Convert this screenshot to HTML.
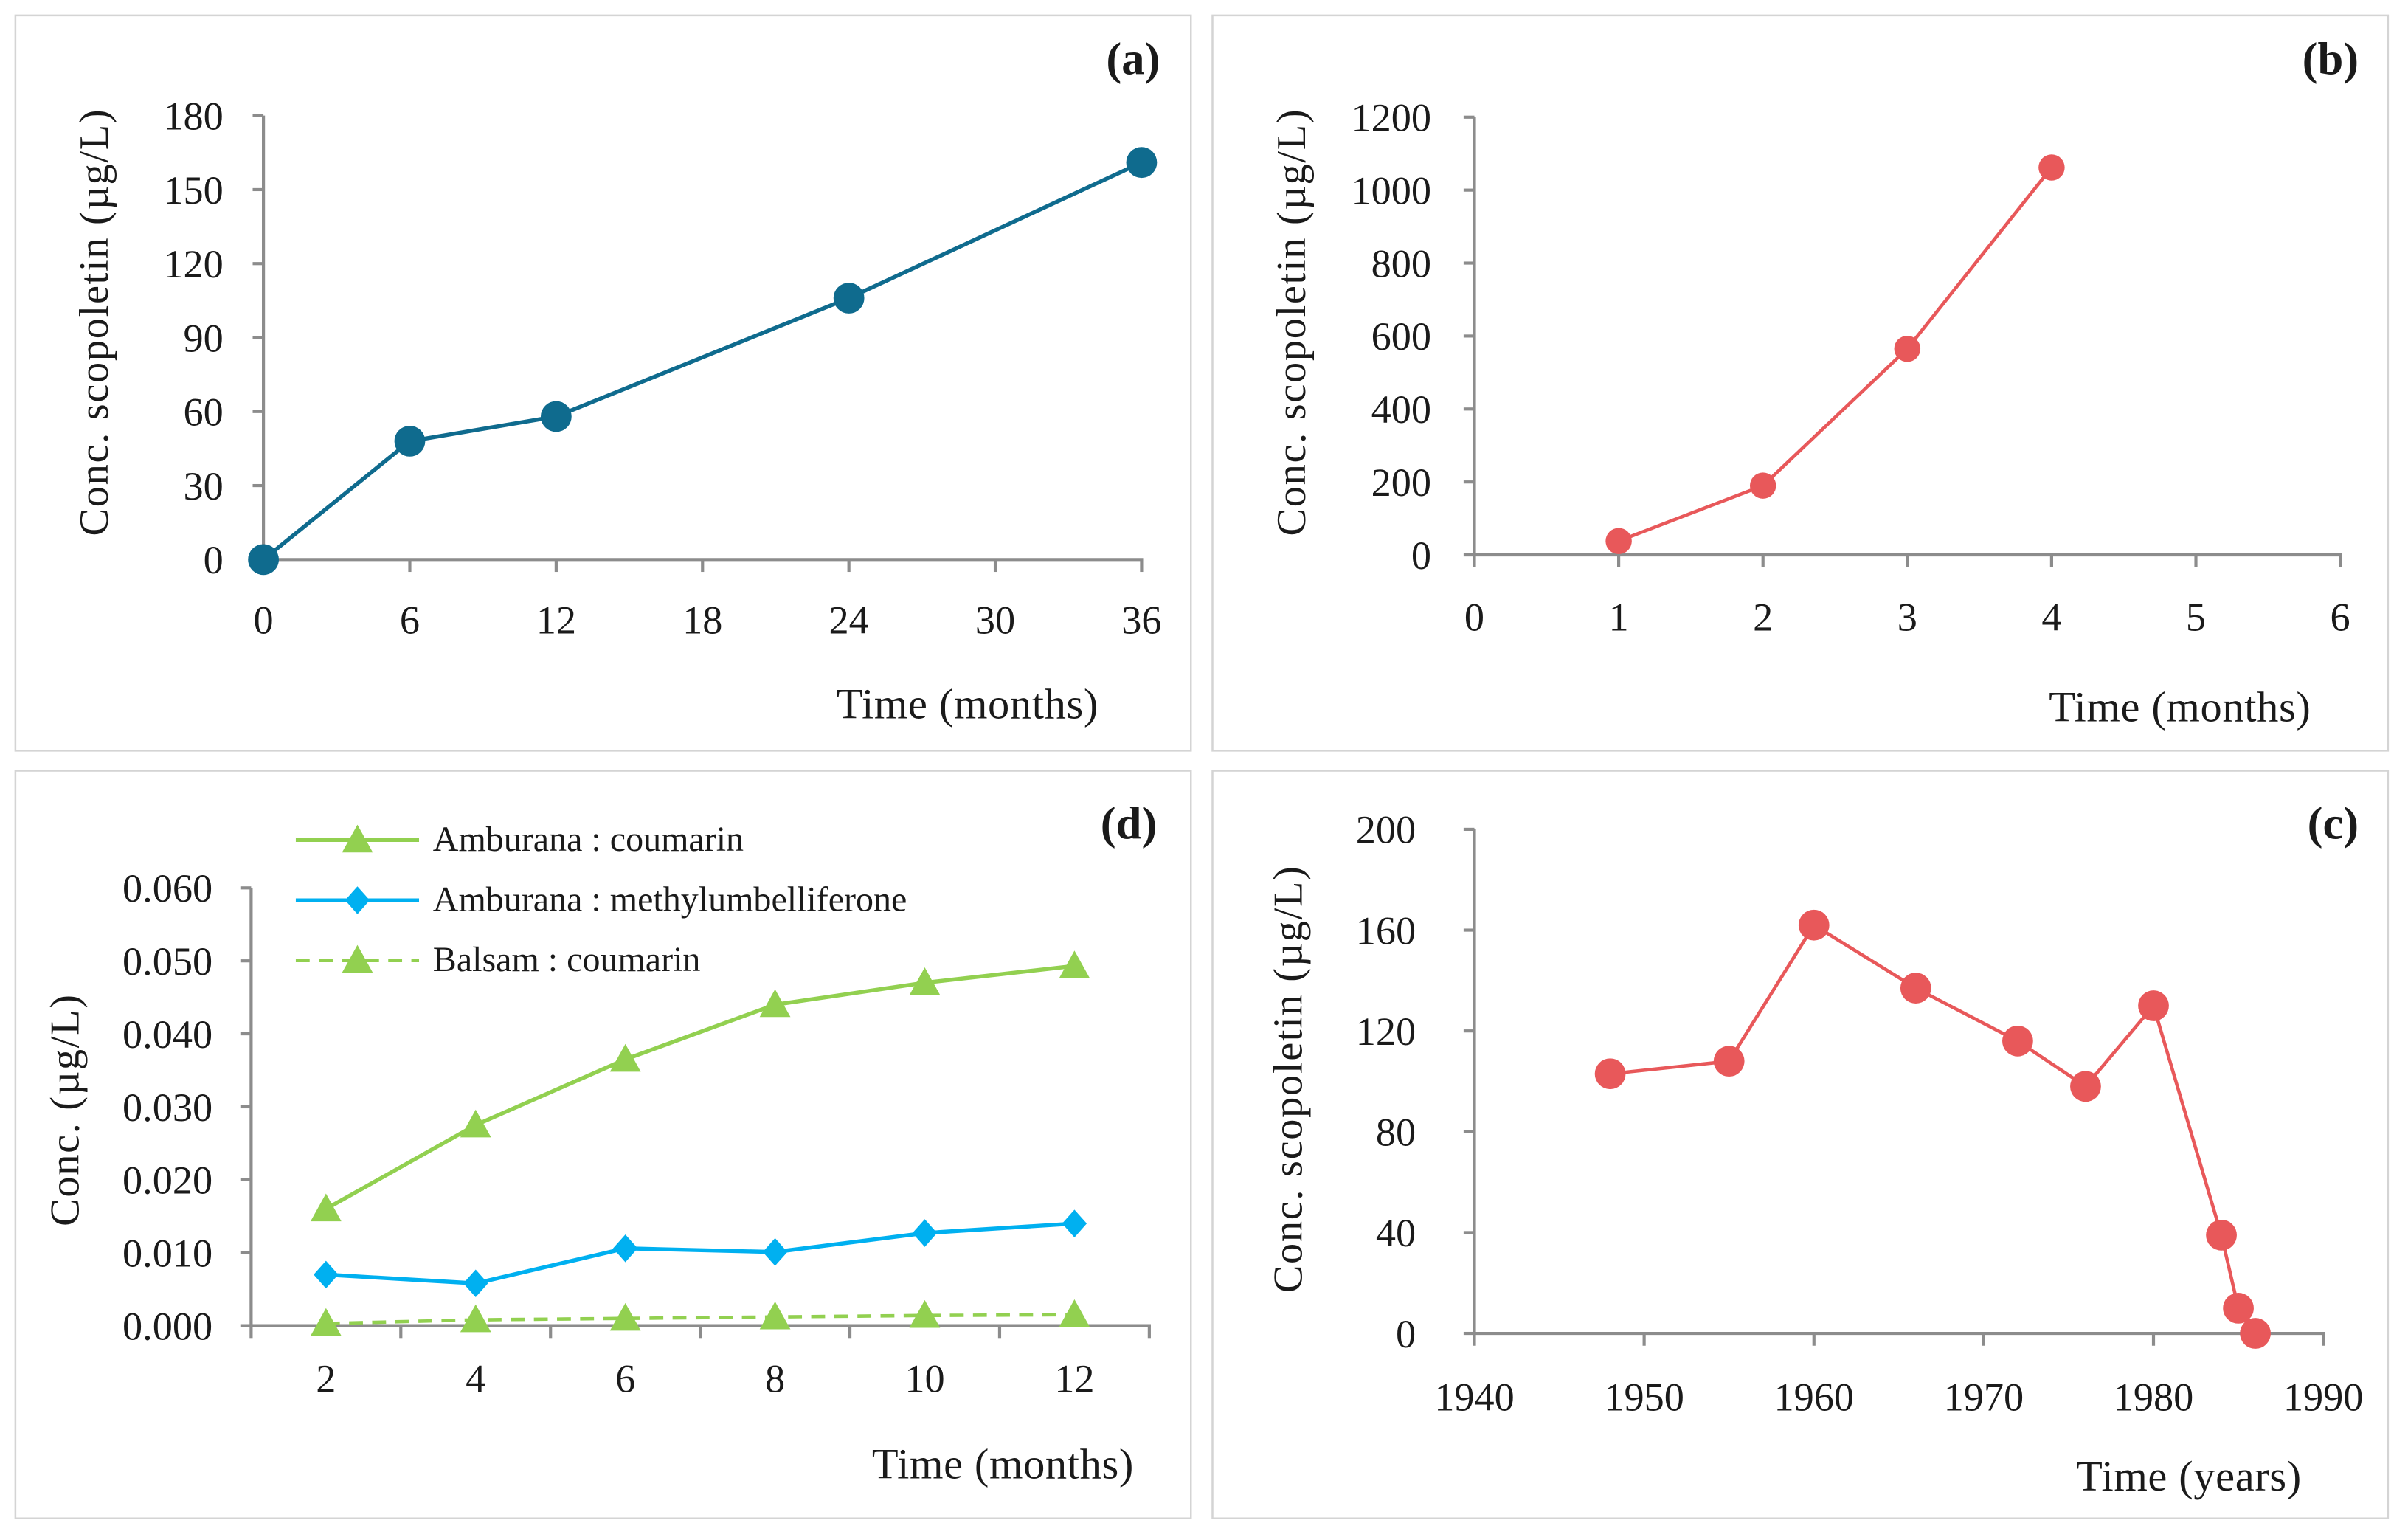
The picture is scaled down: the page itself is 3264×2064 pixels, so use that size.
<!DOCTYPE html>
<html><head><meta charset="utf-8">
<style>
html,body{margin:0;padding:0;background:#fff;}
svg{display:block;}
text{font-family:"Liberation Serif",serif;fill:#1a1a1a;}
</style></head>
<body>
<svg id="fig" width="3264" height="2064" viewBox="0 0 1563 988" preserveAspectRatio="none" xmlns="http://www.w3.org/2000/svg">
<rect x="0" y="0" width="1563" height="988" fill="#fff"/>
</svg>
<script>
// Panel (a)
const aX = [0, 6, 12, 24, 36];
const aY = [0, 48, 58, 106, 161];
const aXTicks = [0, 6, 12, 18, 24, 30, 36];
const aYTicks = [0, 30, 60, 90, 120, 150, 180];
// Panel (b)
const bX = [1, 2, 3, 4];
const bY = [38, 190, 565, 1062];
const bXTicks = [0, 1, 2, 3, 4, 5, 6];
const bYTicks = [0, 200, 400, 600, 800, 1000, 1200];
// Panel (c)
const cX = [1948, 1955, 1960, 1966, 1972, 1976, 1980, 1984, 1985, 1986];
const cY = [103, 108, 162, 137, 116, 98, 130, 39, 10, 0];
const cXTicks = [1940, 1950, 1960, 1970, 1980, 1990];
const cYTicks = [0, 40, 80, 120, 160, 200];
// Panel (d)
const dCats = ["2", "4", "6", "8", "10", "12"];
const dCoumarin = [0.016, 0.0275, 0.0365, 0.044, 0.047, 0.0493];
const dMethyl = [0.007, 0.0058, 0.0106, 0.0101, 0.0127, 0.014];
const dBalsam = [0.0003, 0.0008, 0.001, 0.0012, 0.0014, 0.0015];
const dYTicks = [0, 0.01, 0.02, 0.03, 0.04, 0.05, 0.06];
const dYLabels = ["0.000", "0.010", "0.020", "0.030", "0.040", "0.050", "0.060"];

const NS = "http://www.w3.org/2000/svg";
const svg = document.getElementById("fig");
const TF = 26;
function el(tag, attrs, parent) {
  const e = document.createElementNS(NS, tag);
  for (const k in attrs) e.setAttribute(k, attrs[k]);
  (parent || svg).appendChild(e);
  return e;
}
function txt(s, x, y, size, anchor, parent, extra) {
  const t = el("text", Object.assign({x: x, y: y, "font-size": size, "text-anchor": anchor}, extra || {}), parent);
  t.textContent = s;
  return t;
}
function lin(d0, d1, r0, r1) { return v => r0 + (v - d0) / (d1 - d0) * (r1 - r0); }
const AX = "#8c8c8c";

function panel(name, bx, by, bw, bh) {
  const g = el("g", {});
  
  
  el("rect", {x: bx, y: by, width: bw, height: bh, fill: "none", stroke: "#d4d4d4", "stroke-width": 1.2}, g);
  return g;
}
function axes(g, sx, sy, xTicks, yTicks, yLabels, x0, x1, y0, y1, xLabY, yLabX, xTickPos) {
  const ax = el("g", {}, g);
  
  
  el("line", {x1: x0, y1: y0, x2: x1, y2: y0, stroke: AX, "stroke-width": 2}, ax);
  (xTickPos || xTicks.map(sx)).forEach(px => el("line", {x1: px, y1: y0, x2: px, y2: y0 + 8, stroke: AX, "stroke-width": 2}, ax));
  const ay = el("g", {}, g);
  
  
  el("line", {x1: x0, y1: y0, x2: x0, y2: y1, stroke: AX, "stroke-width": 2}, ay);
  yTicks.forEach((v, i) => {
    const py = sy(v);
    el("line", {x1: x0 - 7, y1: py, x2: x0, y2: py, stroke: AX, "stroke-width": 2}, ay);
    txt(yLabels ? yLabels[i] : String(v), yLabX, py + 9, TF, "end", ay);
  });
}
function ytitle(g, s, x, y) {
  const t = txt(s, x, y, 27, "middle", g, {transform: "rotate(-90 " + x + " " + y + ")", "letter-spacing": "0.8"});
  
  
}
function xtitle(g, s, x, y) {
  const t = txt(s, x, y, 28, "end", g, {"letter-spacing": "0.3"});
  
  
}
function plabel(g, s, x, y) {
  const t = txt(s, x, y, 30, "end", g, {"font-weight": "bold"});
  
  
}
function series(g, xs, ys, sx, sy, color, w, dash) {
  const pts = xs.map((x, i) => sx(x) + "," + sy(ys[i])).join(" ");
  const p = el("polyline", {points: pts, fill: "none", stroke: color, "stroke-width": w}, g);
  if (dash) p.setAttribute("stroke-dasharray", dash);
  
  
}
function circles(g, xs, ys, sx, sy, color, r) {
  xs.forEach((x, i) => {
    const c = el("circle", {cx: sx(x), cy: sy(ys[i]), r: r, fill: color}, g);
    
    
  });
}
function tri(g, cx, cy, color) {
  return el("polygon", {points: (cx) + "," + (cy - 10) + " " + (cx + 10) + "," + (cy + 8) + " " + (cx - 10) + "," + (cy + 8), fill: color}, g);
}
function dia(g, cx, cy, color) {
  return el("polygon", {points: cx + "," + (cy - 9) + " " + (cx + 8) + "," + cy + " " + cx + "," + (cy + 9) + " " + (cx - 8) + "," + cy, fill: color}, g);
}

// ---- Panel (a)
{
  const g = panel("panel-a", 10, 10, 763, 477);
  const sx = lin(0, 36, 171, 741), sy = lin(0, 180, 363, 75);
  axes(g, sx, sy, aXTicks, aYTicks, null, 171, 742, 363, 75, 0, 145);
  aXTicks.forEach(v => txt(String(v), sx(v), 411, TF, "middle", g));
  ytitle(g, "Conc. scopoletin  (µg/L)", 70, 209);
  xtitle(g, "Time (months)", 713, 466);
  plabel(g, "(a)", 753, 48);
  series(g, aX, aY, sx, sy, "#0f6b8e", 2.6);
  circles(g, aX, aY, sx, sy, "#0f6b8e", 10);
}
// ---- Panel (b)
{
  const g = panel("panel-b", 787, 10, 763, 477);
  const sx = lin(0, 6, 957, 1519), sy = lin(0, 1200, 360, 76);
  axes(g, sx, sy, bXTicks, bYTicks, null, 957, 1520, 360, 76, 0, 929);
  bXTicks.forEach(v => txt(String(v), sx(v), 409, TF, "middle", g));
  ytitle(g, "Conc. scopoletin  (µg/L)", 847, 209);
  xtitle(g, "Time (months)", 1500, 468);
  plabel(g, "(b)", 1531, 48);
  series(g, bX, bY, sx, sy, "#e8585a", 2.2);
  circles(g, bX, bY, sx, sy, "#e8585a", 8.5);
}
// ---- Panel (d)
{
  const g = panel("panel-d", 10, 500, 763, 485);
  const step = (746 - 163) / dCats.length;
  const sx = i => 163 + step * (i + 0.5);
  const sy = lin(0, 0.06, 860, 576);
  const tickPos = [];
  for (let i = 0; i <= dCats.length; i++) tickPos.push(163 + step * i);
  axes(g, sx, sy, dCats, dYTicks, dYLabels, 163, 747, 860, 576, 0, 138, tickPos);
  dCats.forEach((c, i) => txt(c, sx(i), 903, TF, "middle", g));
  ytitle(g, "Conc.  (µg/L)", 51, 720);
  xtitle(g, "Time (months)", 736, 959);
  plabel(g, "(d)", 751, 544);
  const idx = dCats.map((c, i) => i);
  series(g, idx, dBalsam, sx, sy, "#92d050", 2.2, "9,6");
  series(g, idx, dMethyl, sx, sy, "#00b0f0", 2.6);
  series(g, idx, dCoumarin, sx, sy, "#92d050", 2.6);
  idx.forEach(i => { const p = tri(g, sx(i), sy(dBalsam[i]), "#92d050");   });
  idx.forEach(i => { const p = dia(g, sx(i), sy(dMethyl[i]), "#00b0f0");   });
  idx.forEach(i => { const p = tri(g, sx(i), sy(dCoumarin[i]), "#92d050");   });
  const lg = el("g", {}, g);
  
  
  const entries = [["Amburana : coumarin", "#92d050", "tri", null, 545], ["Amburana : methylumbelliferone", "#00b0f0", "dia", null, 584], ["Balsam : coumarin", "#92d050", "tri", "9,6", 623]];
  entries.forEach(e => {
    const eg = el("g", {}, lg);
    
    
    const l = el("line", {x1: 192, y1: e[4], x2: 272, y2: e[4], stroke: e[1], "stroke-width": 2.4}, eg);
    if (e[3]) l.setAttribute("stroke-dasharray", e[3]);
    if (e[2] === "tri") tri(eg, 232, e[4], e[1]); else dia(eg, 232, e[4], e[1]);
    txt(e[0], 281, e[4] + 7, 23, "start", eg, {fill: "#555"});
  });
}
// ---- Panel (c)
{
  const g = panel("panel-c", 787, 500, 763, 485);
  const sx = lin(1940, 1990, 957, 1508), sy = lin(0, 200, 865, 538);
  axes(g, sx, sy, cXTicks, cYTicks, null, 957, 1509, 865, 538, 0, 919);
  cXTicks.forEach(v => txt(String(v), sx(v), 915, TF, "middle", g));
  ytitle(g, "Conc. scopoletin  (µg/L)", 845, 700);
  xtitle(g, "Time (years)", 1494, 967);
  plabel(g, "(c)", 1531, 544);
  series(g, cX, cY, sx, sy, "#e8585a", 2.2);
  circles(g, cX, cY, sx, sy, "#e8585a", 10);
}
</script>
</body></html>
